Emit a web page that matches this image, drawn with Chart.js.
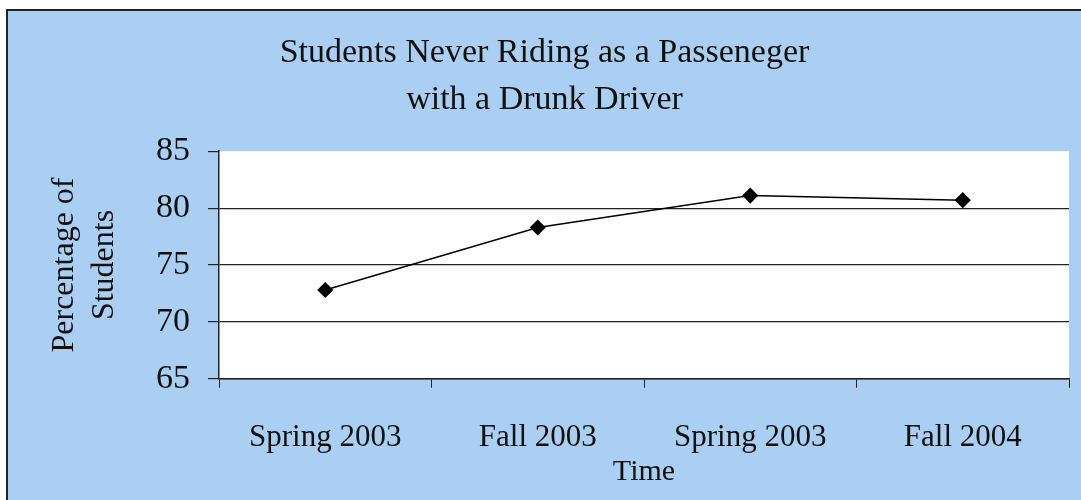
<!DOCTYPE html>
<html>
<head>
<meta charset="utf-8">
<script src="https://cdn.jsdelivr.net/npm/chart.js@4.4.0/dist/chart.umd.min.js"></script>
<style>
  body { margin: 0; background: #ffffff; }
  #frame {
    position: absolute; left: 6px; top: 9px;
    width: 1075px; height: 491px;
    border-left: 2px solid #222; border-top: 2px solid #222;
    background: #aacff2;
  }
  #lineChart { display: block; }
</style>
</head>
<body>
<div id="frame">
  <canvas id="lineChart" width="1073" height="489"></canvas>
</div>
<script>
// data
const terms = ["Spring 2003", "Fall 2003", "Spring 2003", "Fall 2004"];
const percentNever = [72.8, 78.3, 81.1, 80.7];
const yTicks = [65, 70, 75, 80, 85];

const serif = "'Liberation Serif', 'DejaVu Serif', serif";

// white plot area over the blue background
const plotBg = {
  id: "plotBg",
  beforeDraw(chart) {
    const a = chart.chartArea;
    const ctx = chart.ctx;
    ctx.save();
    ctx.fillStyle = "#ffffff";
    ctx.fillRect(a.left, a.top, a.right - a.left, a.bottom - a.top);
    ctx.restore();
  }
};

new Chart("lineChart", {
  type: "line",
  data: {
    labels: terms,
    datasets: [{
      data: percentNever,
      borderColor: "#000",
      borderWidth: 1.5,
      backgroundColor: "#000",
      pointStyle: "rectRot",
      pointRadius: 7,
      pointHoverRadius: 7,
      fill: false,
      tension: 0
    }]
  },
  options: {
    responsive: false,
    animation: false,
    layout: { padding: { top: 18, right: 12, left: 12, bottom: 17 } },
    plugins: {
      legend: { display: false },
      tooltip: { enabled: false },
      title: {
        display: true,
        text: ["Students Never Riding as a Passeneger", "with a Drunk Driver"],
        color: "#111",
        font: { family: serif, size: 34, weight: "normal", lineHeight: 1.4 },
        padding: { top: 0, bottom: 27 }
      }
    },
    scales: {
      x: {
        offset: true,
        grid: {
          offset: true,
          drawOnChartArea: false,
          color: "#222",
          tickLength: 9
        },
        border: { color: "#222", width: 1.5 },
        ticks: {
          color: "#111",
          padding: 31,
          maxRotation: 0,
          font: { family: serif, size: 31 }
        },
        title: {
          display: true,
          text: "Time",
          color: "#111",
          padding: { top: -25, bottom: 0 },
          font: { family: serif, size: 30, lineHeight: 0.7 }
        }
      },
      y: {
        min: 65,
        max: 85,
        afterBuildTicks(axis) {
          axis.ticks = yTicks.map(v => ({ value: v }));
        },
        grid: {
          color: ctx => (ctx.tick && ctx.tick.value === 85) ? "rgba(0,0,0,0)" : "#222",
          tickColor: "#222",
          lineWidth: 1.2,
          tickLength: 11
        },
        border: { color: "#222", width: 1.5 },
        ticks: {
          color: "#111",
          padding: 18,
          font: { family: serif, size: 34 }
        },
        title: {
          display: true,
          text: ["Percentage of", "Students"],
          color: "#111",
          padding: { top: 25, bottom: 13 },
          font: { family: serif, size: 32, lineHeight: 1.25 }
        }
      }
    }
  },
  plugins: [plotBg]
});
</script>
</body>
</html>
